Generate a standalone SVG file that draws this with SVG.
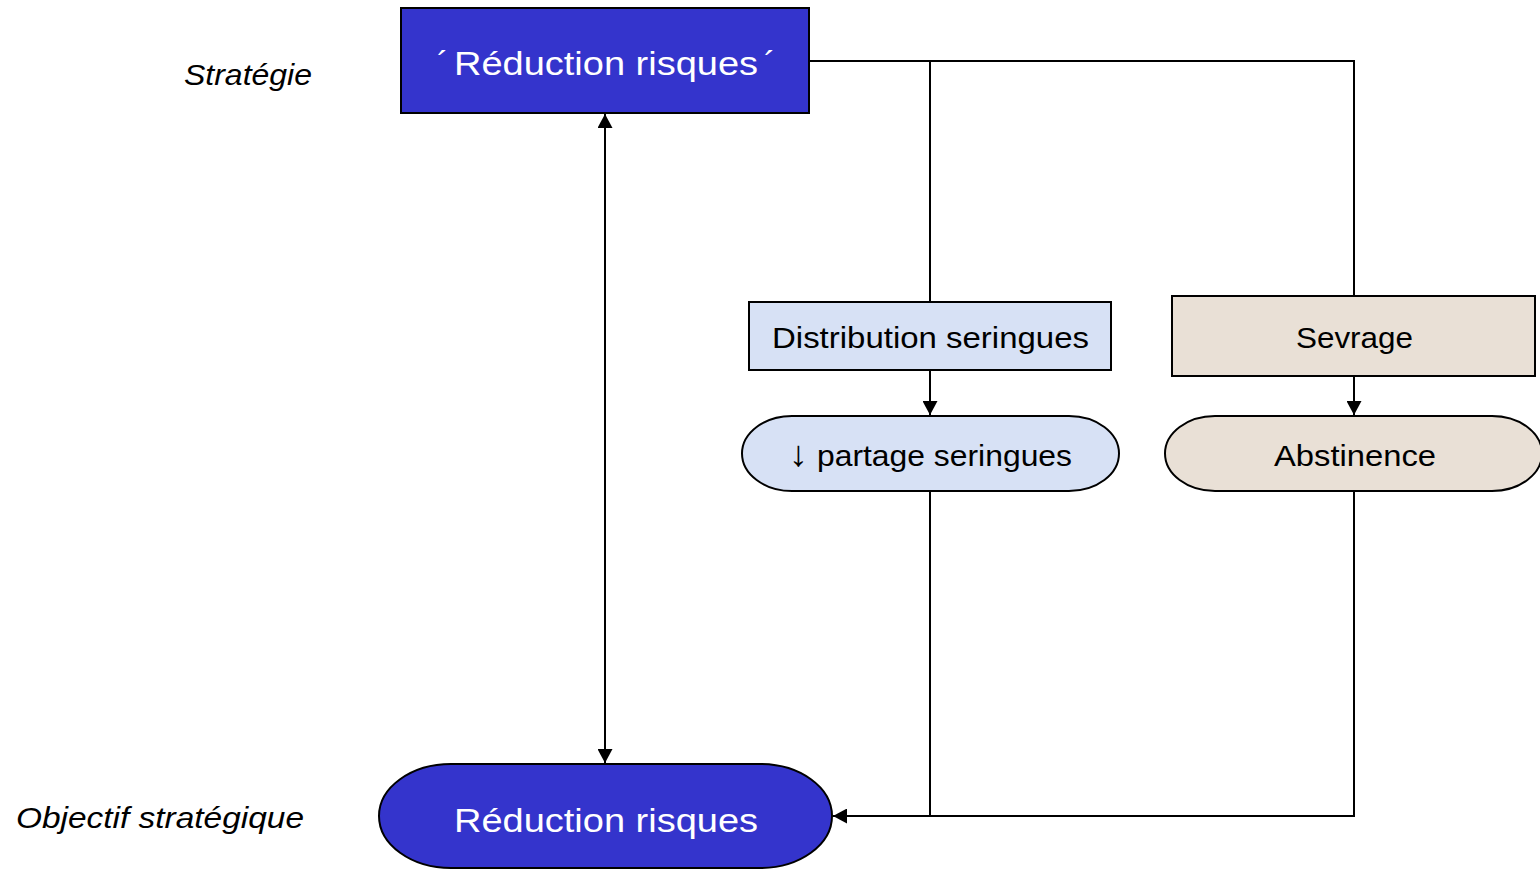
<svg xmlns="http://www.w3.org/2000/svg" width="1540" height="869" viewBox="0 0 1540 869">
<defs>
<style>
.lbl{font-family:"Liberation Sans",Arial,sans-serif;font-style:italic;font-size:30px;fill:#000}
.t{font-family:"Liberation Sans",Arial,sans-serif;font-size:30px;fill:#000}
.tw{font-family:"Liberation Sans",Arial,sans-serif;font-size:34px;fill:#fff}
.blue{fill:#3434CC;stroke:#000;stroke-width:2}
.lb{fill:#D7E1F5;stroke:#000;stroke-width:2}
.bg{fill:#E9E0D6;stroke:#000;stroke-width:2}
.c{fill:none;stroke:#000;stroke-width:2}
</style>
<marker id="ah" viewBox="0 0 14 15" refX="14" refY="7.5" markerWidth="14" markerHeight="15" markerUnits="userSpaceOnUse" orient="auto-start-reverse">
<path d="M0,0 L14,7.5 L0,15 Z" fill="#000"/>
</marker>
</defs>
<rect width="1540" height="869" fill="#fff"/>
<g id="labels">
<text class="lbl" x="184" y="85" textLength="128" lengthAdjust="spacingAndGlyphs">Stratégie</text>
<text class="lbl" x="16" y="828" textLength="288" lengthAdjust="spacingAndGlyphs">Objectif stratégique</text>
</g>
<g id="connectors">
<path class="c" d="M605,114 V763" marker-start="url(#ah)" marker-end="url(#ah)"/>
<path class="c" d="M809,61 H1354 V296"/>
<path class="c" d="M930,61 V302"/>
<path class="c" d="M930,370 V415" marker-end="url(#ah)"/>
<path class="c" d="M1354,376 V415" marker-end="url(#ah)"/>
<path class="c" d="M1354,492 V816 H930"/>
<path class="c" d="M930,492 V816 H833" marker-end="url(#ah)"/>
</g>
<g id="strategy">
<rect class="blue" x="401" y="8" width="408" height="105"/>
<text class="tw" x="437" y="75">´<tspan x="454" textLength="304" lengthAdjust="spacingAndGlyphs">Réduction risques</tspan><tspan x="764">´</tspan></text>
</g>
<g id="distribution">
<rect class="lb" x="749" y="302" width="362" height="68"/>
<text class="t" x="930.5" y="348" text-anchor="middle" textLength="317" lengthAdjust="spacingAndGlyphs">Distribution seringues</text>
</g>
<g id="partage">
<rect class="lb" x="742" y="416" width="377" height="75" rx="50" ry="37.5"/>
<text class="t" x="930.5" y="466" text-anchor="middle" textLength="283" lengthAdjust="spacingAndGlyphs"><tspan font-size="36">↓</tspan> partage seringues</text>
</g>
<g id="sevrage">
<rect class="bg" x="1172" y="296" width="363" height="80"/>
<text class="t" x="1354.5" y="348" text-anchor="middle" textLength="117" lengthAdjust="spacingAndGlyphs">Sevrage</text>
</g>
<g id="abstinence">
<rect class="bg" x="1165" y="416" width="377" height="75" rx="50" ry="37.5"/>
<text class="t" x="1355" y="466" text-anchor="middle" textLength="162" lengthAdjust="spacingAndGlyphs">Abstinence</text>
</g>
<g id="objectif">
<rect class="blue" x="379" y="764" width="453" height="104" rx="72" ry="52"/>
<text class="tw" x="606" y="832" text-anchor="middle" textLength="304" lengthAdjust="spacingAndGlyphs">Réduction risques</text>
</g>
</svg>
